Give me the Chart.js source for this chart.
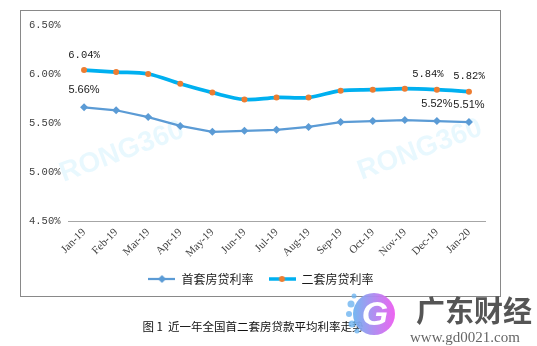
<!DOCTYPE html>
<html>
<head>
<meta charset="utf-8">
<script src="https://cdn.jsdelivr.net/npm/chart.js@4.4.1/dist/chart.umd.min.js"></script>
<style>
  html, body { margin: 0; padding: 0; background: #fff; }
  #wrap { width: 537px; height: 346px; position: relative; }
</style>
</head>
<body>
<div id="wrap"><canvas id="rates"></canvas></div>
<script>
const months = ["Jan-19", "Feb-19", "Mar-19", "Apr-19", "May-19", "Jun-19", "Jul-19",
                "Aug-19", "Sep-19", "Oct-19", "Nov-19", "Dec-19", "Jan-20"];
const firstHome = [5.66, 5.63, 5.56, 5.47, 5.41, 5.42, 5.43, 5.46, 5.51, 5.52, 5.53, 5.52, 5.51];
const secondHome = [6.04, 6.02, 6.00, 5.90, 5.81, 5.74, 5.76, 5.76, 5.83, 5.84, 5.85, 5.84, 5.82];
const yTicks = [4.5, 5.0, 5.5, 6.0, 6.5];
const seriesNames = ["首套房贷利率", "二套房贷利率"];
const labelledPoints = [0, 11, 12];
const caption = "图 1  近一年全国首二套房贷款平均利率走势";

const blue = "#5B9BD5", cyan = "#00B0F0", orange = "#ED7D31";

// little line+marker swatch for the legend
function swatch(lineColor, lineW, marker) {
  const c = document.createElement("canvas");
  c.width = 27; c.height = 10;
  const g = c.getContext("2d");
  g.strokeStyle = lineColor; g.lineWidth = lineW;
  g.beginPath(); g.moveTo(0, 5); g.lineTo(27, 5); g.stroke();
  if (marker === "diamond") {
    g.fillStyle = blue;
    g.beginPath(); g.moveTo(13.5, 1); g.lineTo(17.5, 5); g.lineTo(13.5, 9); g.lineTo(9.5, 5); g.closePath(); g.fill();
  } else {
    g.fillStyle = orange;
    g.beginPath(); g.arc(13.5, 5, 3, 0, Math.PI * 2); g.fill();
  }
  return c;
}
const swatches = [swatch(blue, 2.25, "diamond"), swatch(cyan, 3.5, "dot")];

// frame, caption, watermarks and the corner logo
const decor = {
  id: "decor",
  afterLayout(chart) {
    // nudge the legend a little to the right
    chart.legend.left += 4;
    chart.legend.right += 4;
  },
  beforeDatasetsDraw(chart) {
    const ctx = chart.ctx;
    ctx.save();
    ctx.fillStyle = "rgba(0,176,240,0.09)";
    ctx.font = "bold 28px 'Liberation Sans'";
    ctx.textAlign = "center"; ctx.textBaseline = "middle";
    [[122, 152], [420, 150]].forEach(p => {
      ctx.save();
      ctx.translate(p[0], p[1]);
      ctx.rotate(-20.5 * Math.PI / 180);
      ctx.fillText("RONG360", 0, 0);
      ctx.restore();
    });
    ctx.restore();
  },
  afterDraw(chart) {
    const ctx = chart.ctx;
    ctx.save();
    ctx.strokeStyle = "#898989"; ctx.lineWidth = 1;
    ctx.strokeRect(20.5, 10.5, 480, 286);

    ctx.fillStyle = "#111";
    ctx.font = "11.5px 'Noto Sans CJK SC'";
    ctx.textAlign = "center"; ctx.textBaseline = "middle";
    ctx.fillText(caption, 253, 327);

    // logo badge
    const grad = ctx.createLinearGradient(353, 0, 396, 0);
    grad.addColorStop(0, "rgba(110,180,240,0.95)");
    grad.addColorStop(1, "rgba(240,90,240,0.95)");
    ctx.fillStyle = grad;
    ctx.beginPath(); ctx.arc(374, 314, 21, 0, Math.PI * 2); ctx.fill();
    ctx.fillStyle = "rgba(110,180,240,0.8)";
    [[354, 296, 2.5], [351, 304, 3.5], [349, 314, 3], [352, 324, 3.5], [357, 331, 2.5]].forEach(d => {
      ctx.beginPath(); ctx.arc(d[0], d[1], d[2], 0, Math.PI * 2); ctx.fill();
    });
    ctx.fillStyle = "#fff";
    ctx.font = "italic bold 34px 'Liberation Sans'";
    ctx.fillText("G", 375, 316);

    ctx.fillStyle = "#555";
    ctx.font = "bold 29px 'Noto Sans CJK SC'";
    ctx.textAlign = "left";
    ctx.fillText("广东财经", 416, 311);
    ctx.font = "15px 'Liberation Serif'";
    ctx.fillStyle = "#666";
    ctx.fillText("www.gd0021.com", 410, 338);
    ctx.restore();
  }
};

// value labels above chosen points
const valueLabels = {
  id: "valueLabels",
  afterDatasetsDraw(chart) {
    const ctx = chart.ctx;
    ctx.save();
    ctx.fillStyle = "#1a1a1a";
    ctx.textAlign = "center"; ctx.textBaseline = "middle";
    chart.data.datasets.forEach((ds, di) => {
      const meta = chart.getDatasetMeta(di);
      labelledPoints.forEach(i => {
        const pt = meta.data[i];
        let dx = 0;
        if (di === 1 && i === 11) dx = -9;
        ctx.font = di === 1 ? "10.5px 'Liberation Mono'" : "11px 'Liberation Sans'";
        ctx.fillText(ds.data[i].toFixed(2) + "%", pt.x + dx, pt.y - (di === 1 ? 15 : 17));
      });
    });
    ctx.restore();
  }
};

new Chart(document.getElementById("rates"), {
  type: "line",
  data: {
    labels: months,
    datasets: [
      {
        label: seriesNames[0],
        data: firstHome,
        borderColor: blue,
        borderWidth: 2.25,
        backgroundColor: blue,
        pointStyle: "rectRot",
        pointRadius: 4,
        pointBorderWidth: 0,
        tension: 0
      },
      {
        label: seriesNames[1],
        data: secondHome,
        borderColor: cyan,
        borderWidth: 3.75,
        backgroundColor: orange,
        pointBackgroundColor: orange,
        pointRadius: 3,
        pointBorderWidth: 0,
        tension: 0.35
      }
    ]
  },
  options: {
    responsive: true,
    maintainAspectRatio: false,
    animation: false,
    layout: { padding: { left: 29, right: 52, top: 25, bottom: 51 } },
    plugins: {
      tooltip: { enabled: false },
      legend: {
        position: "bottom",
        labels: {
          usePointStyle: true,
          pointStyleWidth: 27,
          padding: 15,
          color: "#1a1a1a",
          font: { family: "'Noto Sans CJK SC'", size: 12 },
          generateLabels(chart) {
            return chart.data.datasets.map((ds, i) => ({
              text: ds.label,
              pointStyle: swatches[i],
              fillStyle: "transparent",
              strokeStyle: "transparent",
              lineWidth: 0,
              fontColor: "#1a1a1a",
              datasetIndex: i
            }));
          }
        }
      }
    },
    scales: {
      x: {
        offset: true,
        grid: { display: false, drawTicks: false },
        border: { display: true, color: "#a6a6a6", width: 1 },
        ticks: {
          minRotation: 45, maxRotation: 45,
          padding: 5,
          color: "#404040",
          font: { family: "'Liberation Serif'", size: 11 }
        },
        afterFit(scale) { scale.height = 37; }
      },
      y: {
        min: yTicks[0],
        max: yTicks[yTicks.length - 1],
        afterBuildTicks(scale) { scale.ticks = yTicks.map(v => ({ value: v })); },
        grid: { display: false, drawTicks: false },
        border: { display: false },
        ticks: {
          crossAlign: "far",
          color: "#404040",
          font: { family: "'Liberation Mono'", size: 10.5 },
          callback: v => v.toFixed(2) + "%"
        },
        afterFit(scale) { scale.width = 39; }
      }
    }
  },
  plugins: [decor, valueLabels]
});
</script>
</body>
</html>
